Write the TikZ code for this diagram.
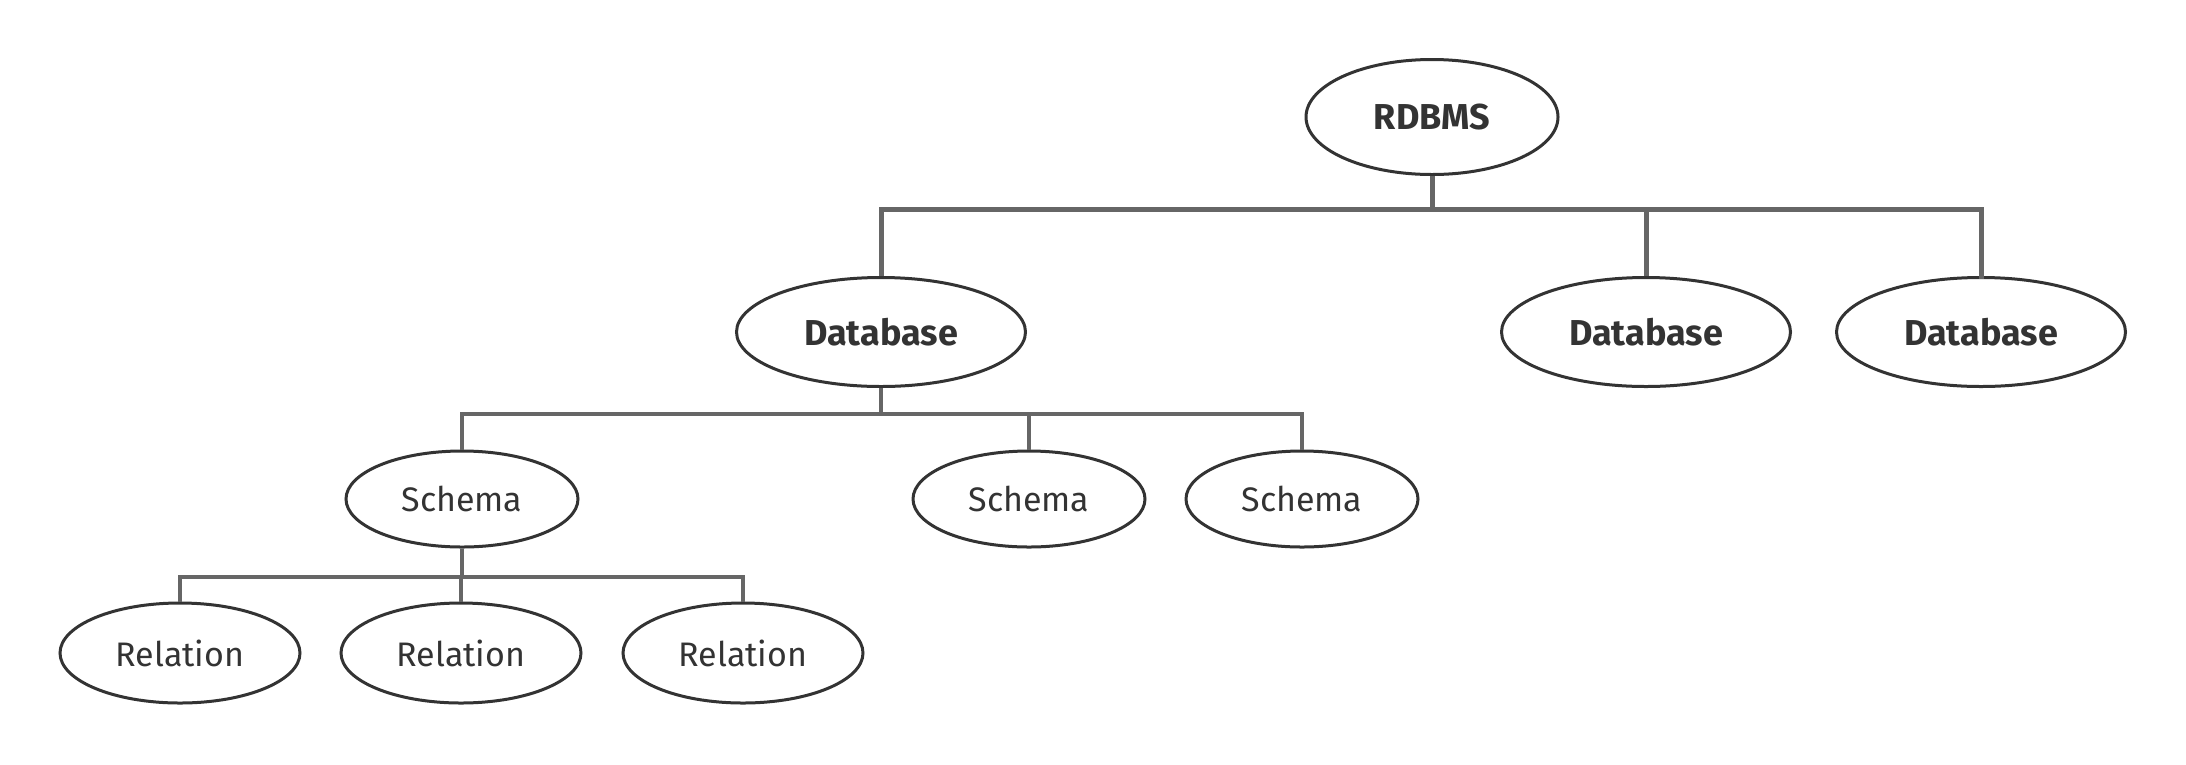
\documentclass[tikz,border=0pt]{standalone}
\usepackage{fontspec}
\setmainfont{Fira Sans}
\usetikzlibrary{shapes.geometric}
\definecolor{edgegray}{HTML}{666666}
\definecolor{ink}{HTML}{333333}
\tikzset{
  ell/.style={ellipse, draw=ink, line width=3pt, fill=white, inner sep=0pt, text=ink},
  bigell/.style={ell, font=\fontsize{36}{40}\selectfont\bfseries},
  smallell/.style={ell, font=\fontsize{34}{38}\selectfont},
  conn1/.style={draw=edgegray, line width=5pt},
  conn2/.style={draw=edgegray, line width=3.5pt},
}
\begin{document}
\begin{tikzpicture}[x=1pt,y=-1pt]
\useasboundingbox (0,0) rectangle (2186,764);
\node[bigell, minimum width=252pt, minimum height=115pt] (root) at (1432,117) {RDBMS};
\node[bigell, minimum width=289pt, minimum height=109pt] (db1) at (881,332) {Database};
\node[bigell, minimum width=289pt, minimum height=109pt] (db2) at (1646,332) {Database};
\node[bigell, minimum width=289pt, minimum height=109pt] (db3) at (1981,332) {Database};
\node[smallell, minimum width=232pt, minimum height=96pt] (s1) at (462,499) {Schema};
\node[smallell, minimum width=232pt, minimum height=96pt] (s2) at (1029,499) {Schema};
\node[smallell, minimum width=232pt, minimum height=96pt] (s3) at (1302,499) {Schema};
\node[smallell, minimum width=240pt, minimum height=100pt] (r1) at (180,653) {Relation};
\node[smallell, minimum width=240pt, minimum height=100pt] (r2) at (461,653) {Relation};
\node[smallell, minimum width=240pt, minimum height=100pt] (r3) at (743,653) {Relation};
\coordinate (bus1) at (1432,209);
\coordinate (bus2) at (881,414);
\coordinate (bus3) at (462,577);
\path[conn1] (root.south) -- (bus1);
\path[conn1] (db1.north) |- (bus1);
\path[conn1] (db2.north) |- (bus1);
\path[conn1, line cap=rect] (db3.north) |- (bus1);
\path[conn2] (db1.south) -- (bus2);
\path[conn2] (s1.north) |- (bus2);
\path[conn2] (s2.north) |- (bus2);
\path[conn2] (s3.north) |- (bus2);
\path[conn2] (s1.south) -- (bus3);
\path[conn2] (r1.north) |- (bus3);
\path[conn2] (r2.north) |- (bus3);
\path[conn2] (r3.north) |- (bus3);
\end{tikzpicture}
\end{document}
